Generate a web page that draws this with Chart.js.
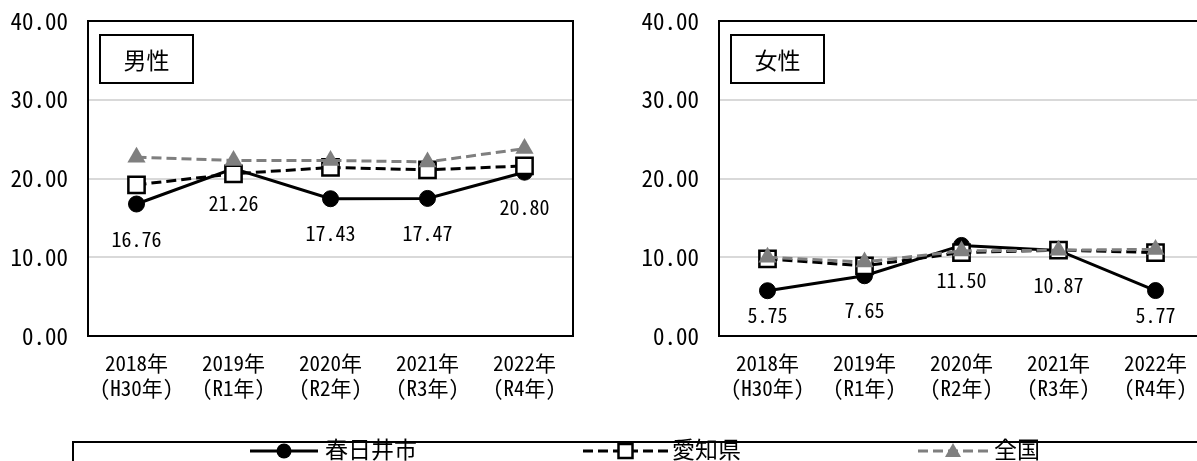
<!DOCTYPE html>
<html><head><meta charset="utf-8">
<script src="https://cdn.jsdelivr.net/npm/chart.js@4.4.1/dist/chart.umd.min.js"></script>
<style>
html,body{margin:0;padding:0;width:1197px;height:461px;overflow:hidden;background:#fff;}
.wrap{position:absolute;top:0;width:600px;height:440px;}
#legend{position:absolute;left:72px;top:441px;width:1200px;height:60px;border:2px solid #000;box-sizing:border-box;}
.item{position:absolute;top:-2px;height:20px;display:flex;align-items:center;}
.item span{font-family:'Noto Sans CJK JP','Noto Sans',sans-serif;font-size:23px;line-height:20px;color:#000;white-space:nowrap;position:relative;top:-3px;}
</style></head><body>
<div class="wrap" style="left:0"><canvas id="c1" width="600" height="440"></canvas></div>
<div class="wrap" style="left:631px"><canvas id="c2" width="600" height="440"></canvas></div>
<div id="legend"></div>
<script>
// ---- data ----
const categories = [['2018年','(H30年)'],['2019年','(R1年)'],['2020年','(R2年)'],['2021年','(R3年)'],['2022年','(R4年)']];
const seriesNames = ['春日井市','愛知県','全国'];
const panelTitles = ['男性','女性'];
const maleKasugai = [16.76, 21.26, 17.43, 17.47, 20.80];
const maleAichi   = [19.2, 20.6, 21.4, 21.1, 21.6];
const maleJapan   = [22.7, 22.3, 22.3, 22.1, 23.8];
const femaleKasugai = [5.75, 7.65, 11.50, 10.87, 5.77];
const femaleAichi   = [9.8, 8.9, 10.6, 10.9, 10.6];
const femaleJapan   = [10.0, 9.4, 10.8, 10.9, 11.0];
const yMin = 0, yMax = 40, yStep = 10;

const MONO = "'Noto Sans Mono CJK JP','Noto Sans CJK JP',monospace";
const CJK = "'Noto Sans CJK JP','Noto Sans',sans-serif";
const GRAY = '#7f7f7f';

const panelPlugin = {
  id:'panel',
  afterDatasetsDraw(chart, args, opts){
    const ctx = chart.ctx, a = chart.chartArea;
    ctx.save();
    ctx.strokeStyle = '#000'; ctx.lineWidth = 2;
    ctx.strokeRect(a.left, a.top, a.right - a.left, a.bottom - a.top);
    const bx = a.left + 12, by = a.top + 14, bw = 93, bh = 48;
    ctx.fillStyle = '#fff'; ctx.fillRect(bx, by, bw, bh);
    ctx.strokeRect(bx, by, bw, bh);
    ctx.fillStyle = '#000';
    ctx.font = '23px ' + CJK;
    ctx.textAlign = 'center'; ctx.textBaseline = 'middle';
    ctx.fillText(opts.title, bx + bw/2, by + bh/2 + 1);
    const meta = chart.getDatasetMeta(0);
    const vals = chart.data.datasets[0].data;
    ctx.font = '20px ' + MONO;
    meta.data.forEach((el, i) => {
      const y = Math.min(el.y + 35, a.bottom - 21);
      ctx.fillText(vals[i].toFixed(2), el.x, y);
    });
    ctx.restore();
  }
};

function makeChart(id, title, s1, s2, s3){
  return new Chart(document.getElementById(id), {
    type:'line',
    data:{
      labels: categories,
      datasets:[
        {label:seriesNames[0], data:s1, borderColor:'#000', borderWidth:3, pointStyle:'circle', pointRadius:8, pointBackgroundColor:'#000', pointBorderColor:'#000', pointBorderWidth:1, order:3},
        {label:seriesNames[1], data:s2, borderColor:'#000', borderWidth:3, borderDash:[10,5], pointStyle:'rect', pointRadius:11.5, pointBackgroundColor:'#fff', pointBorderColor:'#000', pointBorderWidth:2.5, order:2},
        {label:seriesNames[2], data:s3, borderColor:GRAY, borderWidth:3, borderDash:[10,5], pointStyle:'triangle', pointRadius:10.5, pointBackgroundColor:GRAY, pointBorderColor:GRAY, pointBorderWidth:0, order:1}
      ]
    },
    options:{
      responsive:false, animation:false, devicePixelRatio:1,
      layout:{padding:{left:0, right:27, top:21, bottom:0}},
      plugins:{legend:{display:false}, tooltip:{enabled:false}, panel:{title:title}},
      elements:{line:{tension:0}},
      scales:{
        x:{
          offset:true,
          grid:{display:false, drawTicks:false},
          border:{display:false},
          ticks:{color:'#000', padding:14, font:{family:MONO, size:21, lineHeight:1.2}, maxRotation:0, autoSkip:false},
          afterFit(s){ s.height = 104; }
        },
        y:{
          min:yMin, max:yMax,
          grid:{color:'#d9d9d9', lineWidth:2, drawTicks:false},
          border:{display:false},
          ticks:{stepSize:yStep, color:'#000', padding:20, font:{family:MONO, size:23}, callback:v=>Number(v).toFixed(2)},
          afterFit(s){ s.width = 88; s.paddingTop = 0; s.paddingBottom = 0; }
        }
      }
    },
    plugins:[panelPlugin]
  });
}

makeChart('c1', panelTitles[0], maleKasugai, maleAichi, maleJapan);
makeChart('c2', panelTitles[1], femaleKasugai, femaleAichi, femaleJapan);

const legend = document.getElementById('legend');
const samples = [
  {left:176, w:68, gap:7, svg:(w)=>`<line x1="0" y1="10" x2="${w}" y2="10" stroke="#000" stroke-width="3"/><circle cx="${w/2}" cy="10" r="7.5" fill="#000"/>`},
  {left:509, w:85, gap:4, svg:(w)=>`<line x1="0" y1="10" x2="${w}" y2="10" stroke="#000" stroke-width="3" stroke-dasharray="10,5"/><rect x="${w/2-7}" y="3" width="14" height="14" fill="#fff" stroke="#000" stroke-width="2.5"/>`},
  {left:844, w:70, gap:6, svg:(w)=>`<line x1="0" y1="10" x2="${w}" y2="10" stroke="${GRAY}" stroke-width="3" stroke-dasharray="10,5"/><polygon points="${w/2},2 ${w/2+8},16 ${w/2-8},16" fill="${GRAY}"/>`}
];
samples.forEach((s, i) => {
  const d = document.createElement('div');
  d.className = 'item';
  d.style.left = s.left + 'px';
  d.innerHTML = `<svg width="${s.w}" height="20" style="margin-right:${s.gap}px">${s.svg(s.w)}</svg><span>${seriesNames[i]}</span>`;
  legend.appendChild(d);
});
</script>
</body></html>
